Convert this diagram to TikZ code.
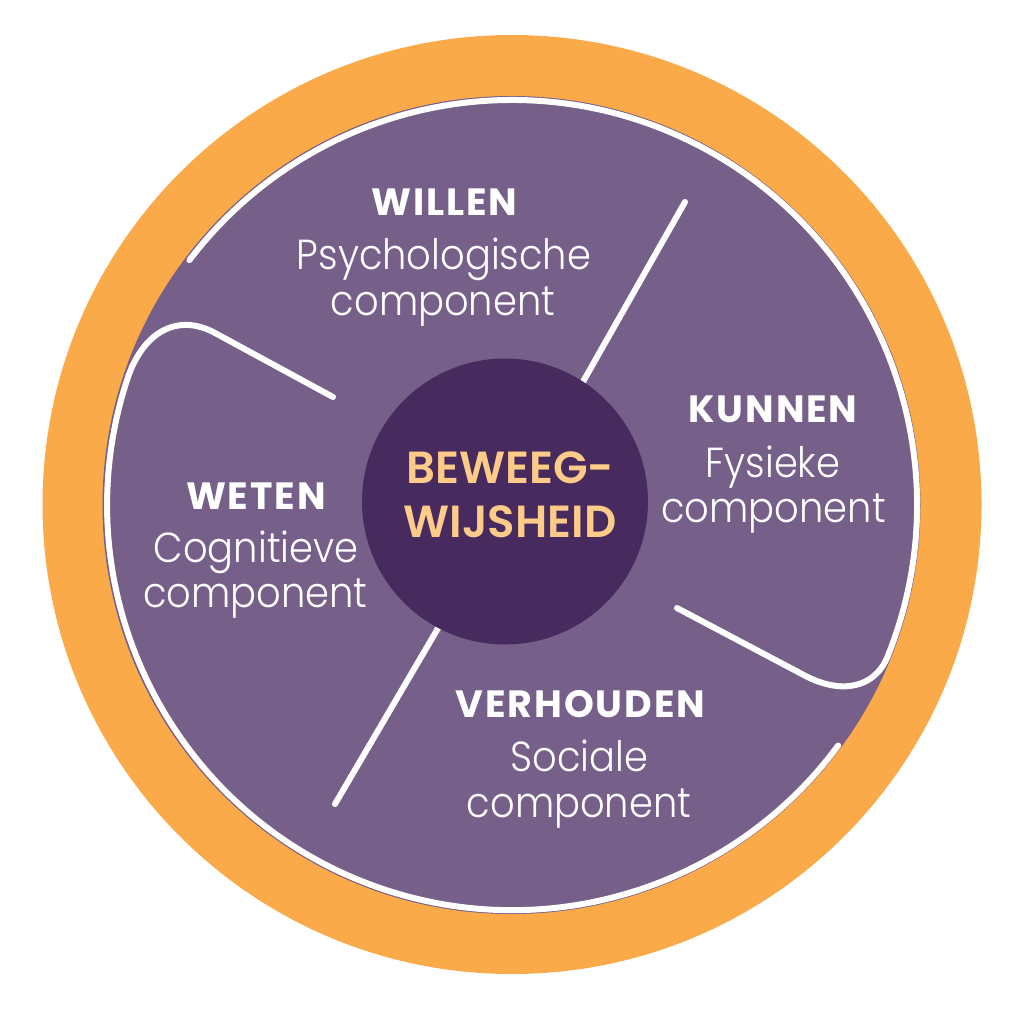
\documentclass[tikz,border=0pt]{standalone}
\usepackage{fontspec}
\newfontfamily\lightf{Poppins Light}[FakeStretch=0.915]
\newfontfamily\boldf{Poppins Bold}[LetterSpace=5]
\newfontfamily\semif{Poppins SemiBold}
\definecolor{ringorange}{HTML}{FBAA4A}
\definecolor{wheelpurple}{HTML}{76608A}
\definecolor{hubpurple}{HTML}{472B5E}
\definecolor{hubtext}{HTML}{FFCB88}
\tikzset{
  whiteline/.style={draw=white, line width=6pt, line cap=round, line join=round},
  headlabel/.style={text=white, inner sep=0pt, anchor=base, font=\boldf\fontsize{38}{44}\selectfont},
  sublabel/.style={text=white, inner sep=0pt, anchor=base, font=\lightf\fontsize{42}{48}\selectfont},
  hublabel/.style={text=hubtext, inner sep=0pt, anchor=base, font=\semif\fontsize{45}{52}\selectfont}
}
\begin{document}
\begin{tikzpicture}[x=1pt,y=-1pt]
\useasboundingbox (0,0) rectangle (1024,1009);
\fill[ringorange] (512,504.5) circle[radius=469.5];
\fill[wheelpurple] (511.5,505) circle[radius=409];
% white outline paths
\draw[whiteline] (677,608) -- (804.7,675.5) .. controls (841.8,695.1) and (875,687.6) .. (887.5,656.7)
  arc[start angle=22, end angle=-142.8, radius=405];
\draw[whiteline] (333,397) -- (214.7,332.8) .. controls (177.7,312.8) and (142.6,331.6) .. (127,380)
  arc[start angle=198, end angle=36.4, radius=405];
% spokes
\draw[whiteline] (685,202) -- (576.6,393);
\draw[whiteline] (335,804) -- (444.6,617);
% hub
\node[circle, fill=hubpurple, minimum size=286pt, inner sep=0pt] (hub) at (505,501.5) {};
\node[hublabel] (hub1) at (510,483) {BEWEEG-};
\node[hublabel] (hub2) at (510,537) {WIJSHEID};
% labels
\node[headlabel] (willen) at (444.5,215) {WILLEN};
\node[sublabel] (willen1) at (444,269) {Psychologische};
\node[sublabel] (willen2) at (443,315) {component};
\node[headlabel] (kunnen) at (773,422) {KUNNEN};
\node[sublabel] (kunnen1) at (773,477) {Fysieke};
\node[sublabel] (kunnen2) at (773.5,522) {component};
\node[headlabel] (weten) at (256,509) {WETEN};
\node[sublabel] (weten1) at (256,562) {Cognitieve};
\node[sublabel] (weten2) at (255.5,607) {component};
\node[headlabel] (verhouden) at (580.5,717) {VERHOUDEN};
\node[sublabel] (verhouden1) at (579.5,771) {Sociale};
\node[sublabel] (verhouden2) at (579,817) {component};
\end{tikzpicture}
\end{document}
